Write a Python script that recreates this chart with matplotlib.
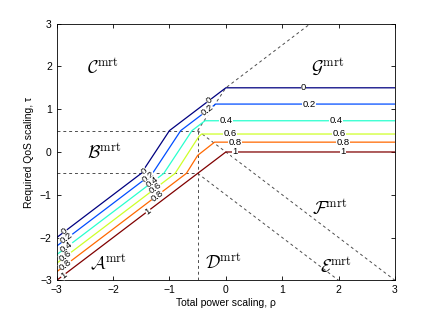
import matplotlib
matplotlib.use("Agg")
import matplotlib.pyplot as plt
import numpy as np

plt.rcParams['mathtext.fontset'] = 'cm'
plt.rcParams['font.family'] = ['Liberation Sans', 'DejaVu Sans']

# contour levels and their polylines
levels = [0.0, 0.2, 0.4, 0.6, 0.8, 1.0]
lev_x = [
    [-3, -1.5, -1.0, 0.0, 3],
    [-3, -1.3, -0.8, -0.18, 3],
    [-3, -1.1, -0.6, -0.37, 3],
    [-3, -0.9, -0.48, -0.43, 3],
    [-3, -0.7, -0.5, -0.2, 3],
    [-3, 0.0, 3],
]
lev_y = [
    [-2.0, -0.5, 0.5, 1.5, 1.5],
    [-2.2, -0.5, 0.5, 1.12, 1.12],
    [-2.4, -0.5, 0.5, 0.73, 0.73],
    [-2.6, -0.5, 0.36, 0.42, 0.42],
    [-2.8, -0.5, -0.08, 0.23, 0.23],
    [-3.0, 0.0, 0.0],
]
level_text = ['0', '0.2', '0.4', '0.6', '0.8', '1']

# region boundaries (dashed)
bound_x = [[-3, -0.5], [-3, -0.5], [-0.5, -0.5], [-0.5, 3], [-0.5, 2], [-0.5, 0.0, 1.5]]
bound_y = [[0.5, 0.5], [-0.5, -0.5], [-3, 0.5], [0.5, -3], [-0.5, -3], [0.5, 1.5, 3]]

# region names
region_names = ['A', 'B', 'C', 'D', 'E', 'F', 'G']
region_x = [-2.08, -2.15, -2.18, -0.05, 1.95, 1.85, 1.8]
region_y = [-2.6, -0.02, 1.97, -2.6, -2.7, -1.33, 1.97]

fig = plt.figure(figsize=(4.36, 3.15), dpi=100)
ax = fig.add_axes([0.13, 0.11, 0.776, 0.815])

cmap = plt.get_cmap('jet')
for lv, xs, ys in zip(levels, lev_x, lev_y):
    ax.plot(xs, ys, color=cmap(float(lv)), lw=0.9, zorder=2)

for xs, ys in zip(bound_x, bound_y):
    ax.plot(xs, ys, color='0.3', lw=0.7, ls=(0, (3, 3)), zorder=1)

# inline level labels
ang = np.degrees(np.arctan(42.8 / 56.4))
lab_pos = {
    0: [(-2.86, -1.86, ang), (-1.45, -0.45, ang), (-0.3, 1.2, ang), (1.38, 1.5, 0)],
    1: [(-2.82, -2.02, ang), (-1.38, -0.58, ang), (-0.33, 0.97, ang), (1.48, 1.12, 0)],
    2: [(-2.82, -2.22, ang), (-1.3, -0.7, ang), (0.0, 0.73, 0), (1.95, 0.73, 0)],
    3: [(-2.84, -2.44, ang), (-1.25, -0.85, ang), (0.07, 0.43, 0), (2.01, 0.43, 0)],
    4: [(-2.84, -2.64, ang), (-1.22, -1.02, ang), (0.16, 0.22, 0), (2.08, 0.22, 0)],
    5: [(-2.88, -2.88, ang), (-1.38, -1.38, ang), (0.16, 0.0, 0), (2.08, 0.0, 0)],
}
for i, poslist in lab_pos.items():
    for (x, y, r) in poslist:
        ax.text(x, y, level_text[i], fontsize=6.8, rotation=r, ha='center', va='center',
                rotation_mode='anchor', zorder=3,
                bbox=dict(boxstyle='square,pad=0.02', fc='white', ec='none'))

for name, x, y in zip(region_names, region_x, region_y):
    ax.text(x, y, r'$\mathcal{%s}^{\mathrm{mrt}}$' % name, fontsize=13,
            ha='center', va='center', zorder=4)

ax.set_xlim(-3, 3)
ax.set_ylim(-3, 3)
ax.set_xticks(range(-3, 4))
ax.set_yticks(range(-3, 4))
ax.tick_params(direction='in', top=True, right=True, labelsize=7.5, length=3, width=0.6)
for s in ax.spines.values():
    s.set_linewidth(0.6)
ax.set_xlabel('Total power scaling, ρ', fontsize=7.5, labelpad=2)
ax.set_ylabel('Required QoS scaling, τ', fontsize=7.5, labelpad=4)

fig.savefig('out.png', dpi=100)
